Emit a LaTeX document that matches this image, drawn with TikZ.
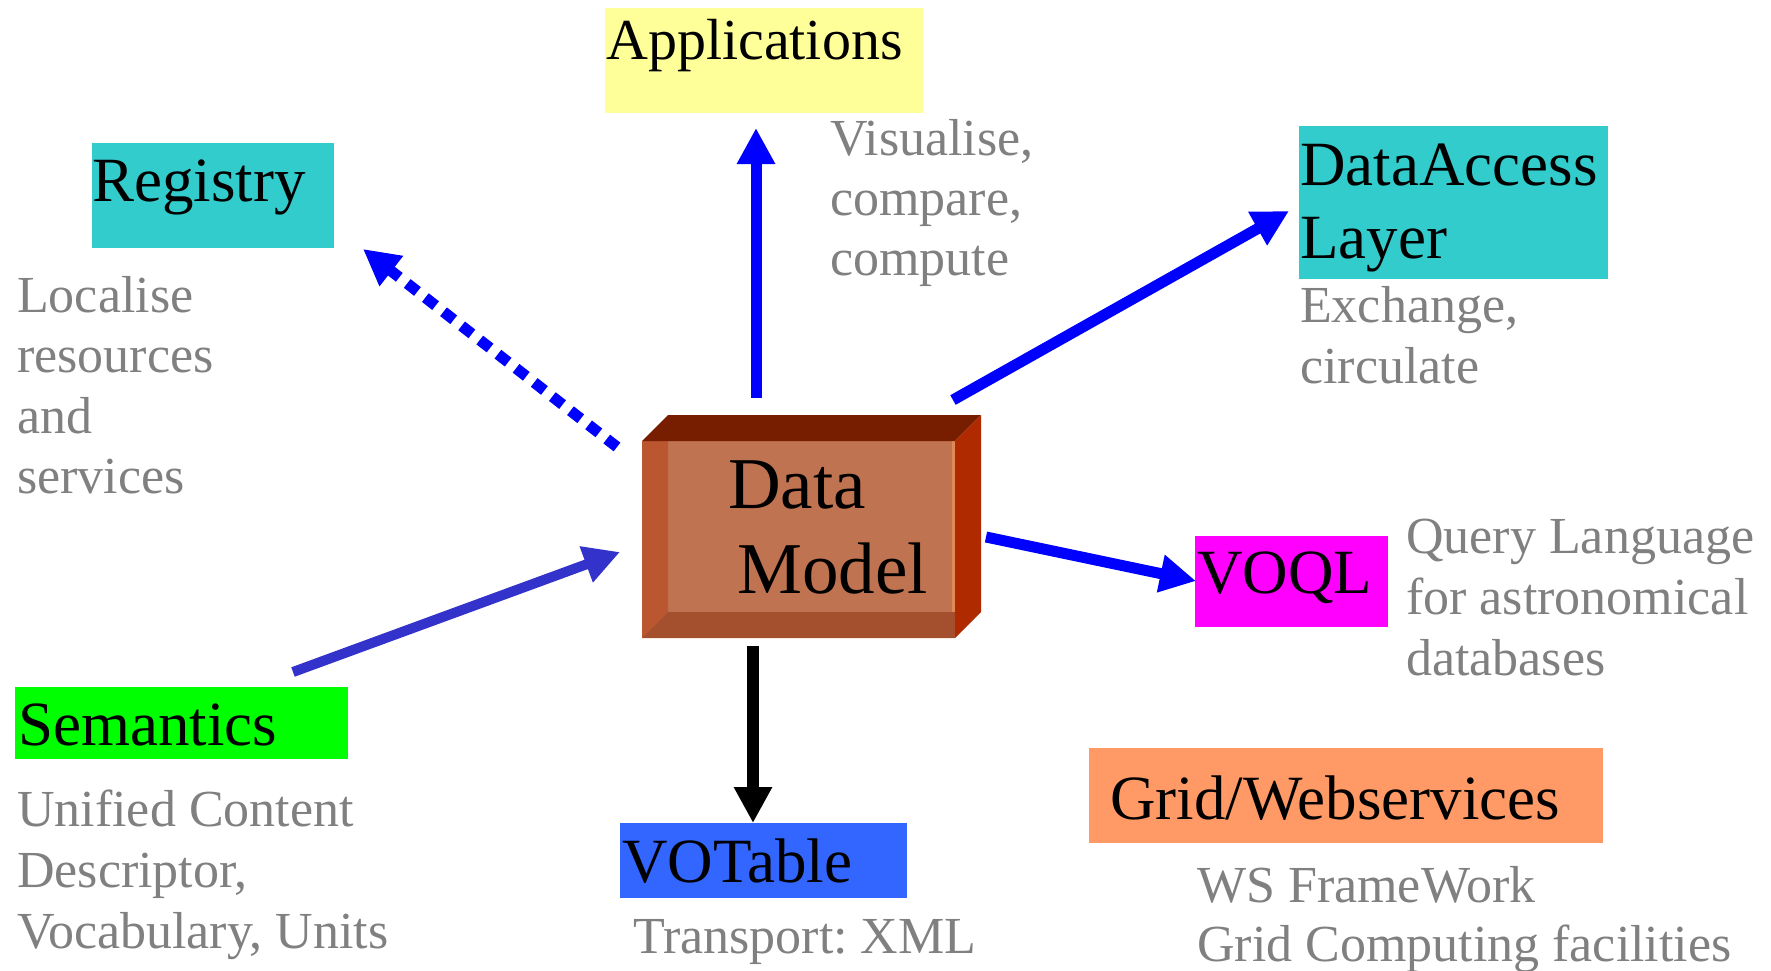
\documentclass[tikz,border=0pt]{standalone}
\usepackage{fontspec}
\setmainfont{Liberation Serif}
\usetikzlibrary{arrows.meta}
\frenchspacing

\definecolor{appyellow}{HTML}{FFFF99}
\definecolor{regcyan}{HTML}{33CCCC}
\definecolor{voqlmagenta}{HTML}{FF00FF}
\definecolor{semgreen}{HTML}{00FF00}
\definecolor{votblue}{HTML}{3366FF}
\definecolor{gridorange}{HTML}{FF9966}
\definecolor{notegray}{HTML}{808080}
\definecolor{arrowblue}{HTML}{0000FF}
\definecolor{semarrow}{HTML}{3333CC}
\definecolor{dmfront}{HTML}{C07350}
\definecolor{dmleft}{HTML}{BA5630}
\definecolor{dmbottom}{HTML}{A4502E}
\definecolor{dmtop}{HTML}{781E00}
\definecolor{dmright}{HTML}{B02A00}
\definecolor{dmedge}{HTML}{E08A58}

\begin{document}
\begin{tikzpicture}[x=1pt,y=-1pt,
  box/.style={draw=none, inner sep=0pt, outer sep=0pt, anchor=north west},
  title/.style={font=\fontsize{63}{63}\selectfont, anchor=base west, inner sep=0pt},
  note/.style={font=\fontsize{52}{61}\selectfont, text=notegray, anchor=base west, inner sep=0pt},
  flow/.style={line width=11pt, -{Triangle[length=36pt,width=36pt]}},
]
\useasboundingbox (0,0) rectangle (1771,971);

% ---------- coloured label boxes ----------
\node[box, fill=appyellow,   minimum width=318pt, minimum height=105pt] (appbox)  at (605,8)    {};
\node[box, fill=regcyan,     minimum width=242pt, minimum height=105pt] (regbox)  at (92,143)   {};
\node[box, fill=regcyan,     minimum width=309pt, minimum height=153pt] (dalbox)  at (1299,126) {};
\node[box, fill=voqlmagenta, minimum width=193pt, minimum height=91pt]  (voqlbox) at (1195,536) {};
\node[box, fill=semgreen,    minimum width=333pt, minimum height=72pt]  (sembox)  at (15,687)   {};
\node[box, fill=votblue,     minimum width=287pt, minimum height=75pt]  (votbox)  at (620,823)  {};
\node[box, fill=gridorange,  minimum width=514pt, minimum height=95pt]  (gridbox) at (1089,748) {};

% ---------- box titles ----------
\node[title, font=\fontsize{58}{58}\selectfont] (apptext) at (606,60) {Applications};
\node[title] (regtext)  at (92,201)   {Registry};
\node[title] (daltextA) at (1300,185) {DataAccess};
\node[title] (daltextB) at (1300,258) {Layer};
\node[title] (voqltext) at (1197,593) {VOQL};
\node[title] (semtext)  at (18,745)   {Semantics};
\node[title] (vottext)  at (622,882)  {VOTable};
\node[title] (gridtext) at (1110,819) {Grid/Webservices};

% ---------- grey descriptions ----------
\node[note] (appA) at (830,155) {Visualise,};
\node[note] (appB) at (830,215) {compare,};
\node[note] (appC) at (830,275) {compute};

\node[note] (regA) at (17,312) {Localise};
\node[note] (regB) at (17,372) {resources};
\node[note] (regC) at (17,433) {and};
\node[note] (regD) at (17,493) {services};

\node[note] (dalA) at (1300,322) {Exchange,};
\node[note] (dalB) at (1300,383) {circulate};

\node[note] (voqlA) at (1406,553) {Query Language};
\node[note] (voqlB) at (1406,614) {for astronomical};
\node[note] (voqlC) at (1406,675) {databases};

\node[note] (semA) at (17,826) {Unified Content};
\node[note] (semB) at (17,887) {Descriptor,};
\node[note] (semC) at (17,948) {Vocabulary, Units};

\node[note] (votA) at (633,953) {Transport: XML};

\node[note] (gridA) at (1197,902) {WS FrameWork};
\node[note] (gridB) at (1197,961) {Grid Computing facilities};

% ---------- the Data Model block ----------
\node[box, fill=dmfront, minimum width=313pt, minimum height=197pt] (dm) at (642,441) {};
\fill[dmleft]   (dm.north west) -- ++(26,0) -- ++(0,171) -- (dm.south west) -- cycle;
\fill[dmbottom] (dm.south west) -- ++(26,-26) -- ++(287,0) -- (dm.south east) -- cycle;
\fill[dmedge]   ([xshift=-3pt]dm.north east) rectangle ([yshift=26pt]dm.south east);
\fill[dmtop]    (dm.north west) -- ++(26,-26) -- ++(313,0) -- (dm.north east) -- cycle;
\fill[dmright]  (dm.north east) -- ++(26,-26) -- ++(0,197) -- (dm.south east) -- cycle;
\node[title, font=\fontsize{73}{73}\selectfont] (dmtextA) at (728,508) {Data};
\node[title, font=\fontsize{73}{73}\selectfont] (dmtextB) at (737,593) {Model};

% ---------- arrow end points ----------
\coordinate (dmUp)     at (756,398);
\coordinate (appIn)    at (756,128);
\coordinate (dmNW)     at (617,447);
\coordinate (regIn)    at (363,249);
\coordinate (dmNE)     at (953,400);
\coordinate (dalIn)    at (1289,211);
\coordinate (dmE)      at (986,537);
\coordinate (voqlIn)   at (1196,581);
\coordinate (dmDown)   at (753,646);
\coordinate (votIn)    at (753,823);
\coordinate (semOut)   at (293,672);
\coordinate (dmW)      at (620,552);

% ---------- connectors ----------
\draw[flow, arrowblue] (dmUp) -- (appIn);
\draw[flow, arrowblue, dash pattern=on 13pt off 10pt] (dmNW) -- (regIn);
\draw[flow, arrowblue] (dmNE) -- (dalIn);
\draw[flow, arrowblue] (dmE) -- (voqlIn);
\draw[flow, black, line width=12pt] (dmDown) -- (votIn);
\draw[flow, semarrow, line width=10pt] (semOut) -- (dmW);

\end{tikzpicture}
\end{document}
